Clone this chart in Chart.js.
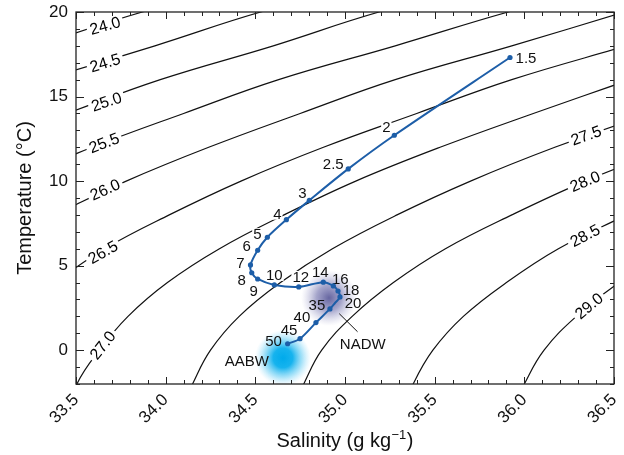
<!DOCTYPE html>
<html>
<head>
<meta charset="utf-8">
<script src="https://cdn.jsdelivr.net/npm/chart.js@4.4.1/dist/chart.umd.min.js"></script>
<style>
  html, body { margin: 0; padding: 0; background: #fff; }
  #tsChart { display: block; }
</style>
</head>
<body>
<canvas id="tsChart" width="624" height="455"></canvas>
<script>
/* T-S diagram: station profile over sigma density contours */

// depth labels (x100 m) with salinity / temperature
const depthLabels = ['1.5','2','2.5','3','4','5','6','7','8','9','10','12','14','16','18','20','','35','40','45','50'];
const salinity    = [35.92, 35.275, 35.018, 34.801, 34.673, 34.567, 34.513, 34.473, 34.480, 34.513, 34.606,
                     34.742, 34.879, 34.935, 34.961, 34.972, 34.944, 34.916, 34.838, 34.749, 34.680];
const temperature = [17.31, 12.71, 10.72, 8.86, 7.72, 6.68, 5.91, 5.04, 4.58, 4.21, 3.86,
                     3.74, 4.02, 3.80, 3.50, 3.15, 2.79, 2.44, 1.63, 0.68, 0.38];

// density contours, [salinity, temperature] pairs
const iso240 = [[33.28,18],[33.87,20],[34.58,22]];
const iso245 = [[33.32,16],[33.94,18],[34.53,20],[35.25,22]];
const iso250 = [[32.95,12],[33.45,14],[33.97,16],[34.60,18],[35.19,20],[35.92,22]];
const iso255 = [[33.14,10],[33.59,12],[34.10,14],[34.63,16],[35.28,18],[35.91,20],[36.62,22]];
const iso260 = [[33.38,8],[33.78,10],[34.24,12],[34.75,14],[35.28,16],[35.93,18],[36.56,20]];
const iso265 = [[33.38,4],[33.66,6],[34.02,8],[34.42,10],[34.88,12],[35.40,14],[35.93,16],[36.57,18]];
const iso270 = [[33.494,-3],[33.505,-2],[33.63,0],[33.79,2],[34.01,4],[34.30,6],[34.66,8],[35.06,10],[35.53,12],[36.05,14],[36.59,16]];
const iso275 = [[34.11,-3],[34.15,-2],[34.25,0],[34.41,2],[34.64,4],[34.93,6],[35.29,8],[35.70,10],[36.17,12],[36.70,14]];
const iso280 = [[34.73,-3],[34.77,-2],[34.87,0],[35.04,2],[35.27,4],[35.56,6],[35.93,8],[36.34,10],[36.82,12]];
const iso285 = [[35.35,-3],[35.38,-2],[35.49,0],[35.66,2],[35.90,4],[36.19,6],[36.57,8]];
const iso290 = [[35.96,-3],[36.00,-2],[36.11,0],[36.29,2],[36.53,4],[36.83,6]];

const contours = [iso240, iso245, iso250, iso255, iso260, iso265, iso270, iso275, iso280, iso285, iso290];
const contourLevels = ['24.0','24.5','25.0','25.5','26.0','26.5','27.0','27.5','28.0','28.5','29.0'];

// where each contour label sits (salinity, temperature) and its tilt
const labelS = [33.662, 33.662, 33.67, 33.656, 33.662, 33.65, 33.648, 36.344, 36.338, 36.338, 36.36];
const labelT = [19.2, 17.0, 14.7, 12.26, 9.5, 5.8, 0.3, 12.7, 9.99, 6.78, 2.62];
const labelAngle = [-16, -17, -18.5, -21, -24, -30, -52, -20, -23, -28, -40];

// depth label nudges in px (dx, dy) from each point
const labelOffsets = [[16,0],[-8,-8],[-15,-5],[-7,-8],[-9,-6],[-10,-3],[-11,-4],[-10,-2],[-10,7],[-4,12],
                      [0,-10],[2,-10],[-3,-10],[7,-7],[13,-1],[13,6],null,[-13,-4],[-14,-6],[-11,-9],[-14,-3]];

// water mass markers
const waterMasses = [
  { name: 'AABW', s: 34.654, t: -0.46, textS: 34.452, textT: -0.62 },
  { name: 'NADW', s: 34.911, t: 3.09,  textS: 35.099, textT: 0.35 }
];

const FONT = '"Liberation Sans", Arial, Helvetica, sans-serif';
const lineBlue = '#1d5ea8';

const overlay = {
  id: 'overlay',
  beforeDatasetsDraw(chart) {
    const { ctx, chartArea: a, scales: { x, y } } = chart;
    ctx.save();
    ctx.beginPath();
    ctx.rect(a.left, a.top, a.right - a.left, a.bottom - a.top);
    ctx.clip();
    // AABW blob
    let px = x.getPixelForValue(waterMasses[0].s), py = y.getPixelForValue(waterMasses[0].t);
    let g = ctx.createRadialGradient(px, py, 0, px, py, 28);
    g.addColorStop(0, 'rgba(0,170,235,1)');
    g.addColorStop(0.35, 'rgba(10,175,237,0.95)');
    g.addColorStop(0.7, 'rgba(70,195,242,0.45)');
    g.addColorStop(1, 'rgba(140,215,248,0)');
    ctx.fillStyle = g;
    ctx.fillRect(px - 30, py - 30, 60, 60);
    // NADW blob
    px = x.getPixelForValue(waterMasses[1].s); py = y.getPixelForValue(waterMasses[1].t);
    g = ctx.createRadialGradient(px, py, 0, px, py, 28);
    g.addColorStop(0, 'rgba(85,85,150,0.9)');
    g.addColorStop(0.45, 'rgba(105,105,168,0.6)');
    g.addColorStop(1, 'rgba(170,170,210,0)');
    ctx.fillStyle = g;
    ctx.fillRect(px - 30, py - 30, 60, 60);
    ctx.restore();
  },
  beforeDatasetDraw(chart, args) {
    if (args.index !== contours.length) return; // only before the profile line
    const { ctx, scales: { x, y } } = chart;
    ctx.save();
    // contour labels, inline with white gaps
    ctx.font = '16px ' + FONT;
    ctx.textAlign = 'center';
    ctx.textBaseline = 'middle';
    contourLevels.forEach((lab, i) => {
      const px = x.getPixelForValue(labelS[i]);
      const py = y.getPixelForValue(labelT[i]);
      const w = ctx.measureText(lab).width;
      ctx.save();
      ctx.translate(px, py);
      ctx.rotate(labelAngle[i] * Math.PI / 180);
      ctx.fillStyle = '#fff';
      ctx.fillRect(-w / 2 - 3, -7, w + 6, 14);
      ctx.fillStyle = '#000';
      ctx.fillText(lab, 0, 1);
      ctx.restore();
    });
    // depth labels
    ctx.font = '15px ' + FONT;
    depthLabels.forEach((lab, i) => {
      if (!lab) return;
      const px = x.getPixelForValue(salinity[i]) + labelOffsets[i][0];
      const py = y.getPixelForValue(temperature[i]) + labelOffsets[i][1];
      if (i <= 11) {
        const w = ctx.measureText(lab).width;
        ctx.fillStyle = '#fff';
        ctx.fillRect(px - w / 2 - 1, py - 6, w + 2, 12);
      }
      ctx.fillStyle = '#111';
      ctx.fillText(lab, px, py + 1);
    });
    ctx.restore();
  },
  afterDatasetsDraw(chart) {
    const { ctx, chartArea: a, scales: { x, y } } = chart;
    ctx.save();
    // water mass names + NADW leader
    ctx.font = '15px ' + FONT;
    ctx.fillStyle = '#111';
    ctx.textAlign = 'center';
    ctx.textBaseline = 'middle';
    waterMasses.forEach(m => {
      ctx.fillText(m.name, x.getPixelForValue(m.textS), y.getPixelForValue(m.textT) + 1);
    });
    ctx.strokeStyle = '#111';
    ctx.lineWidth = 1;
    ctx.beginPath();
    ctx.moveTo(x.getPixelForValue(34.968), y.getPixelForValue(2.16));
    ctx.lineTo(x.getPixelForValue(35.07), y.getPixelForValue(1.09));
    ctx.stroke();

    // frame
    ctx.strokeStyle = '#222';
    ctx.lineWidth = 1.3;
    ctx.strokeRect(a.left, a.top, a.right - a.left, a.bottom - a.top);

    // inward ticks, major + minor
    ctx.lineWidth = 1;
    ctx.beginPath();
    for (let k = 0; k <= 30; k++) {
      const v = 33.5 + k * 0.1;
      const len = (k % 5 === 0) ? 7 : 4;
      const px = Math.round(x.getPixelForValue(v)) + 0.5;
      ctx.moveTo(px, a.bottom); ctx.lineTo(px, a.bottom - len);
      ctx.moveTo(px, a.top); ctx.lineTo(px, a.top + len);
    }
    for (let v = -2; v <= 20; v++) {
      const len = (v % 5 === 0) ? 8 : 4;
      const py = Math.round(y.getPixelForValue(v)) + 0.5;
      ctx.moveTo(a.left, py); ctx.lineTo(a.left + len, py);
      ctx.moveTo(a.right, py); ctx.lineTo(a.right - len, py);
    }
    ctx.stroke();

    // axis titles
    ctx.fillStyle = '#111';
    ctx.font = '20px ' + FONT;
    ctx.save();
    ctx.translate(25, (a.top + a.bottom) / 2);
    ctx.rotate(-Math.PI / 2);
    ctx.textAlign = 'center';
    ctx.textBaseline = 'middle';
    ctx.fillText('Temperature (°C)', 0, 0);
    ctx.restore();

    const main = 'Salinity (g kg', sup = '\u22121', end = ')';
    ctx.textAlign = 'left';
    ctx.textBaseline = 'alphabetic';
    const wm = ctx.measureText(main).width;
    const we = ctx.measureText(end).width;
    ctx.font = '13px ' + FONT;
    const ws = ctx.measureText(sup).width;
    const cx = (a.left + a.right) / 2;
    let sx = cx - (wm + ws + we + 1) / 2;
    const base = 447;
    ctx.font = '20px ' + FONT;
    ctx.fillText(main, sx, base);
    ctx.font = '13px ' + FONT;
    ctx.fillText(sup, sx + wm + 0.5, base - 8);
    ctx.font = '20px ' + FONT;
    ctx.fillText(end, sx + wm + ws + 1, base);
    ctx.restore();
  }
};

const datasets = contours.map((pts, i) => ({
  label: contourLevels[i],
  data: pts.map(p => ({ x: p[0], y: p[1] })),
  showLine: true,
  borderColor: '#111',
  borderWidth: 1.2,
  pointRadius: 0,
  tension: 0.4,
  fill: false,
  order: 1
}));

datasets.push({
  label: 'profile',
  data: salinity.map((s, i) => ({ x: s, y: temperature[i] })),
  showLine: true,
  borderColor: lineBlue,
  backgroundColor: lineBlue,
  borderWidth: 2,
  pointRadius: ctx => depthLabels[ctx.dataIndex] === '' ? 0 : 2.6,
  pointBorderWidth: 0,
  tension: 0.3,
  fill: false,
  order: 0
});

new Chart(document.getElementById('tsChart'), {
  type: 'scatter',
  data: { datasets },
  options: {
    responsive: false,
    animation: false,
    devicePixelRatio: 1,
    layout: { padding: { top: 12, right: 10, left: 0, bottom: 0 } },
    plugins: { legend: { display: false }, tooltip: { enabled: false } },
    scales: {
      x: {
        type: 'linear', min: 33.5, max: 36.5,
        grid: { display: false, drawTicks: false },
        border: { display: false },
        ticks: {
          stepSize: 0.5, autoSkip: false, minRotation: 45, maxRotation: 45,
          color: '#111', padding: 6,
          font: { size: 17, family: FONT },
          callback: v => Number(v).toFixed(1)
        },
        afterFit: s => { s.height = 71; s.paddingLeft = 0; s.paddingRight = 0; }
      },
      y: {
        type: 'linear', min: -2, max: 20,
        grid: { display: false, drawTicks: false },
        border: { display: false },
        ticks: {
          stepSize: 5, includeBounds: false,
          color: '#111', padding: 8,
          font: { size: 17, family: FONT },
          callback: v => v
        },
        afterFit: s => { s.width = 76; s.paddingTop = 0; s.paddingBottom = 0; }
      }
    }
  },
  plugins: [overlay]
});
</script>
</body>
</html>
